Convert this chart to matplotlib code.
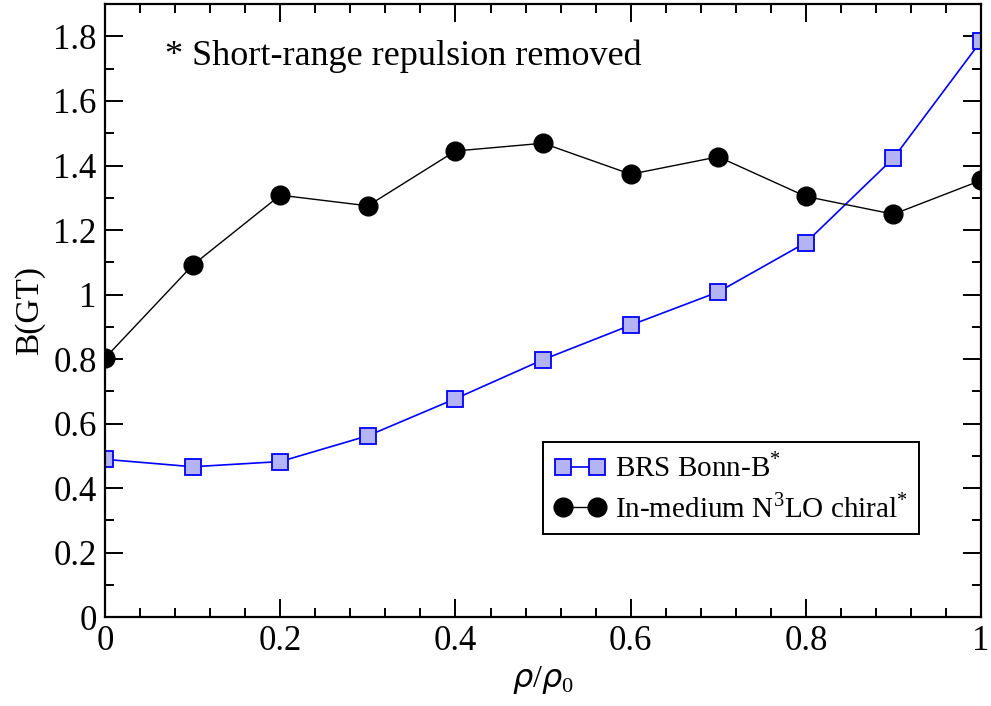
import matplotlib
matplotlib.use("Agg")
import matplotlib.pyplot as plt
from matplotlib.ticker import MultipleLocator

plt.rcParams['font.family'] = ['Liberation Serif', 'DejaVu Serif']
plt.rcParams['mathtext.fontset'] = 'custom'
plt.rcParams['mathtext.rm'] = 'Liberation Serif'
plt.rcParams['mathtext.it'] = 'DejaVu Sans:italic'

# density ratio rho/rho0
rho = [0.0, 0.1, 0.2, 0.3, 0.4, 0.5, 0.6, 0.7, 0.8, 0.9, 1.0]
# B(GT) values
bonn_b = [0.489, 0.466, 0.482, 0.562, 0.677, 0.798, 0.905, 1.008, 1.161, 1.423, 1.786]
n3lo_chiral = [0.803, 1.091, 1.308, 1.275, 1.445, 1.469, 1.373, 1.427, 1.304, 1.249, 1.354]

fig = plt.figure(figsize=(9.91, 7.06), dpi=100)
ax = fig.add_axes([0.106, 0.126, 0.884, 0.868])

ax.plot(rho, bonn_b, color='blue', lw=1.2, marker='s', ms=11,
        mfc='#b4b4f4', mec='blue', mew=1.3,
        label=r'BRS Bonn-B$^{\mathrm{*}}$')
ax.plot(rho, n3lo_chiral, color='black', lw=1.0, marker='o', ms=13.5,
        mfc='black', mec='black',
        label=r'In-medium N$^{\mathrm{3}}$LO chiral$^{\mathrm{*}}$')

ax.set_xlim(0, 1)
ax.set_ylim(0, 1.9)
ax.xaxis.set_minor_locator(MultipleLocator(0.04))
ax.yaxis.set_minor_locator(MultipleLocator(0.1))
ax.set_xticks([0, 0.2, 0.4, 0.6, 0.8, 1.0])
ax.set_xticklabels(['0', '0.2', '0.4', '0.6', '0.8', '1'])
ax.set_yticks([0, 0.2, 0.4, 0.6, 0.8, 1.0, 1.2, 1.4, 1.6, 1.8])
ax.set_yticklabels(['0', '0.2', '0.4', '0.6', '0.8', '1', '1.2', '1.4', '1.6', '1.8'])

ax.tick_params(which='both', direction='in', top=True, right=True, width=1.4)
ax.tick_params(which='major', length=13, labelsize=25, pad=6)
ax.tick_params(which='minor', length=6.5)
for s in ax.spines.values():
    s.set_linewidth(1.6)

ax.set_xlabel(r'$\rho/\rho_{\mathit{0}}$', fontsize=23, labelpad=4)
ax.set_ylabel('B(GT)', fontsize=24, labelpad=6)

ax.text(0.069, 1.74, '* Short-range repulsion removed', fontsize=26, va='center')

leg = ax.legend(loc='upper left', bbox_to_anchor=(0.50, 0.286), borderaxespad=0,
                fontsize=21, handlelength=1.77, handletextpad=0.3, numpoints=2,
                fancybox=False, framealpha=1, edgecolor='black',
                borderpad=0.38, labelspacing=0.36)
leg.get_frame().set_linewidth(1.4)

fig.savefig('out.png', dpi=100)
